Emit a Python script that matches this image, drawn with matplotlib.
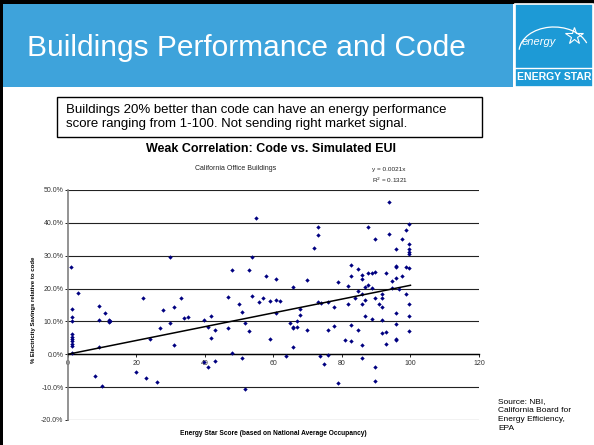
import numpy as np
import matplotlib.pyplot as plt
from matplotlib.patches import Rectangle, Arc
from matplotlib.ticker import FuncFormatter

plt.rcParams['font.family'] = ['Liberation Sans', 'DejaVu Sans']

# Energy Star score vs % electricity savings relative to code
score = [1.0, 1.2, 1.2, 1.2, 1.2, 1.2, 1.2, 1.2, 1.2, 1.2, 1.2,
         3.0, 8.0, 9.0, 9.0, 9.0, 10.0, 11.0, 12.0, 12.1, 12.2,
         19.9, 21.9, 22.9, 24.0, 26.0, 26.9, 27.9, 29.9, 29.9, 30.9, 30.9, 33.0, 33.9, 35.0,
         39.7, 39.9, 40.9, 40.9, 41.8, 41.8, 42.9, 43.0,
         46.9, 46.9, 47.8, 47.8, 49.9, 50.9, 50.9, 51.8, 51.8, 52.9, 52.9, 53.8, 53.8, 54.9,
         55.8, 56.9, 57.9, 58.9, 58.9, 60.9, 60.9, 60.9, 61.9, 63.8,
         64.9, 65.7, 65.8, 66.8, 65.8, 66.8, 65.8, 67.8, 67.8, 69.7, 69.7,
         71.8, 72.9, 72.9, 72.9, 73.7, 73.9, 74.8, 75.8, 75.9, 75.8, 77.8, 77.8, 78.8, 78.8,
         80.8, 81.7, 81.7, 82.8, 82.8, 82.8, 82.8, 83.7, 84.8, 84.8, 84.8,
         85.8, 85.8, 85.8, 85.8, 85.8, 85.8, 86.8, 86.8, 86.8,
         87.7, 87.7, 87.7, 88.7, 88.7, 88.7, 89.7, 89.7, 89.7, 89.7, 89.7, 90.7,
         91.7, 91.7, 91.7, 91.7, 91.7, 92.8, 92.8, 92.8,
         93.7, 93.7, 94.7, 94.7, 95.7, 95.7, 95.7, 95.7, 95.7, 95.7, 95.7, 95.7, 96.7,
         97.6, 97.6, 98.7, 98.7, 98.7, 99.7, 99.6, 99.6, 99.6, 99.6, 99.7, 99.7, 99.7, 99.7]
savings = [26.5, 13.8, 11.5, 10.2, 6.1, 5.4, 4.7, 4.0, 3.2, 2.5, 0.5,
           18.6, -6.5, 14.8, 10.3, 2.3, -9.7, 12.6, 10.4, 9.7, 10.1,
           -5.4, 17.0, -7.1, 4.8, -8.3, 7.9, 13.5, 29.6, 9.4, 2.7, 14.4, 17.2, 11.0, 11.4,
           10.3, -2.3, -3.8, 8.3, 11.7, 5.0, 7.3, -1.9,
           17.5, 8.0, 25.8, 0.5, 15.2, 12.8, -1.0, 9.4, -10.6, 25.7, 7.0, 29.6, 17.6, 41.5,
           15.9, 17.0, 23.9, 16.3, 4.7, 22.9, 16.6, 12.7, 16.2, -0.4,
           9.4, 20.4, 8.4, 8.4, 8.0, 10.1, 2.2, 13.8, 12.0, 22.7, 7.3,
           32.3, 38.7, 36.3, 15.8, -0.5, 15.5, -3.0, -0.3, 16.0, 7.3, 14.5, 8.6, 21.9, -8.7,
           4.3, 20.9, 15.3, 27.3, 23.7, 9.0, 4.1, 17.0, 26.1, 19.2, 7.4,
           24.2, 23.0, 18.5, 15.4, 2.8, -1.0, 20.5, 16.5, 11.8,
           38.7, 24.7, 21.1, 24.7, 20.3, 10.7, 35.1, 25.0, 17.0, -3.8, -8.1, 15.4,
           18.4, 17.0, 14.5, 10.5, 6.4, 24.8, 6.9, 3.0,
           46.2, 36.5, 22.4, 20.2, 31.9, 27.0, 26.7, 23.2, 12.5, 9.2, 4.6, 4.3, 20.0,
           35.2, 23.9, 37.8, 26.7, 18.4, 39.5, 33.7, 32.0, 31.0, 30.4, 26.2, 15.4, 11.8, 7.2]

slope = 0.21  # y = 0.0021x  (as percent per score point)
trend_x = [0, 100]
y_ticks = [-20, -10, 0, 10, 20, 30, 40, 50]
x_ticks = [0, 20, 40, 60, 80, 100, 120]

W, H = 594, 445
fig = plt.figure(figsize=(W / 100, H / 100), dpi=100)
fig.patch.set_facecolor('white')

def fx(px):
    return px / W

def fy(py):
    return 1 - py / H

# slide frame (top and left edges)
fig.patches.append(Rectangle((0, fy(4)), 1, 4 / H, transform=fig.transFigure,
                             facecolor='black', edgecolor='none'))
fig.patches.append(Rectangle((0, 0), fx(3), 1, transform=fig.transFigure,
                             facecolor='black', edgecolor='none'))

# header bar
fig.patches.append(Rectangle((fx(3), fy(87)), fx(510), 83 / H, transform=fig.transFigure,
                             facecolor='#3ea3db', edgecolor='none'))
fig.text(fx(27), fy(48), 'Buildings Performance and Code', color='white',
         fontsize=21.5, va='center', ha='left')

# logo
fig.patches.append(Rectangle((fx(515), fy(87)), fx(78), 83 / H, transform=fig.transFigure,
                             facecolor='#1d9ad6', edgecolor='white', linewidth=1.2))
fig.lines.append(plt.Line2D([fx(515), fx(593)], [fy(68), fy(68)], transform=fig.transFigure,
                            color='white', linewidth=1))
fig.text(fx(554), fy(77.5), 'ENERGY STAR', color='white', fontsize=7.5, fontweight='bold',
         ha='center', va='center', family=['Liberation Sans Narrow', 'Liberation Sans'])
fig.text(fx(539), fy(42), 'energy', color='white', fontsize=8, style='italic',
         ha='center', va='center')
fig.lines.append(plt.Line2D([fx(574)], [fy(36)], transform=fig.transFigure, marker='*',
                            markersize=13, markerfacecolor='none', markeredgecolor='white',
                            markeredgewidth=0.8, linestyle='none'))
fig.patches.append(Arc((fx(554), fy(52)), fx(70), 50 / H, theta1=20, theta2=175,
                       transform=fig.transFigure, color='white', linewidth=0.9))

# callout box
fig.patches.append(Rectangle((fx(57), fy(137)), fx(425), 40 / H, transform=fig.transFigure,
                             facecolor='white', edgecolor='black', linewidth=1))
fig.text(fx(66), fy(117), 'Buildings 20% better than code can have an energy performance\n'
         'score ranging from 1-100. Not sending right market signal.',
         fontsize=9.5, ha='left', va='center', linespacing=1.15)

fig.text(fx(271), fy(149), 'Weak Correlation: Code vs. Simulated EUI', fontsize=9,
         fontweight='bold', ha='center', va='center')

# chart
ax = fig.add_axes([fx(67.7), fy(420), fx(479 - 67.7), (420 - 190) / H])
ax.scatter(score, savings, marker='D', s=5, color='#000080', zorder=3, linewidths=0)
ax.plot(trend_x, [slope * v for v in trend_x], color='black', linewidth=1.1, zorder=4)

ax.set_xlim(0, 120)
ax.set_ylim(-20, 50)
ax.set_yticks(y_ticks)
ax.set_xticks(x_ticks)
ax.yaxis.set_major_formatter(FuncFormatter(lambda v, p: '%.1f%%' % v))
ax.grid(axis='y', color='#222222', linewidth=0.8, zorder=1)
ax.set_axisbelow(True)
for s in ['top', 'right']:
    ax.spines[s].set_visible(False)
ax.spines['bottom'].set_position(('data', 0))
ax.spines['bottom'].set_color('black')
ax.spines['bottom'].set_linewidth(1)
ax.spines['left'].set_color('#808080')
ax.spines['left'].set_linewidth(1.2)
ax.tick_params(axis='y', labelsize=5, length=2, width=0.6, color='black', pad=1,
               labelcolor='#333333')
ax.tick_params(axis='x', labelsize=5, length=2, width=0.6, color='black', pad=2,
               labelcolor='#333333')
ax.set_facecolor('none')

ax.set_xlabel('Energy Star Score (based on National Average Occupancy)', fontsize=4.8,
              fontweight='bold', labelpad=0)
ax.xaxis.set_label_coords(0.5, -0.045)
ax.set_ylabel('% Electricity Savings relative to code', fontsize=4.3, fontweight='bold')
ax.yaxis.set_label_coords(-0.077, 0.48)

fig.text(fx(236), fy(168), 'California Office Buildings', fontsize=5, ha='center',
         va='center', color='#222222')
fig.text(fx(372), fy(176), 'y = 0.0021x\nR$^2$ = 0.1321', fontsize=4.6, ha='left',
         va='center', color='#222222', linespacing=1.5)

fig.text(fx(498), fy(415), 'Source: NBI,\nCalifornia Board for\nEnergy Efficiency,\nEPA',
         fontsize=6, ha='left', va='center', linespacing=1.35)

fig.savefig('out.png', dpi=100)
